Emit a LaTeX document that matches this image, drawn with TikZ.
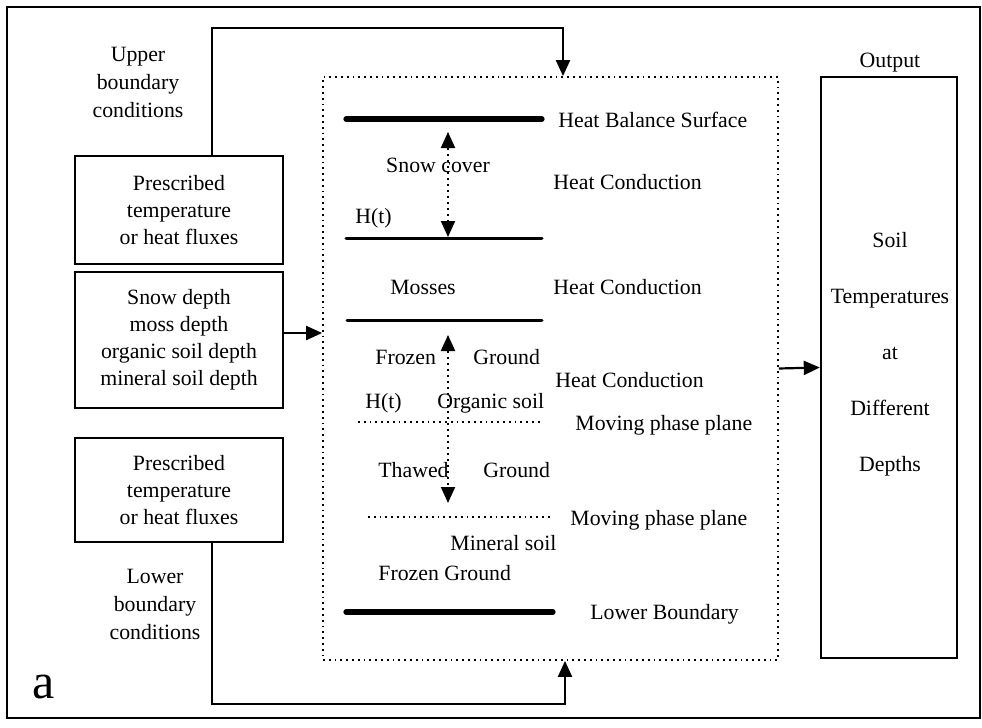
\documentclass[tikz,border=0pt]{standalone}
\usepackage{fontspec}
\setmainfont{Liberation Serif}
\usetikzlibrary{arrows.meta}
\newcommand{\diagfont}{\fontsize{10.9}{13.5}\selectfont}

\begin{document}
\begin{tikzpicture}[
    box/.style={draw=black, line width=1.2pt, minimum width=104pt, inner sep=0pt, align=center, font=\diagfont},
    note/.style={inner sep=0pt, font=\diagfont, align=center},
    side/.style={note, anchor=west},
    flow/.style={line width=1.1pt, -{Triangle[length=8pt, width=7pt]}},
    layer/.style={line width=1.5pt, line cap=round},
    surf/.style={line width=2.6pt, line cap=round},
    front/.style={dotted, line width=0.9pt},
    span/.style={dotted, line width=1pt, {Triangle[length=8pt, width=7pt]}-{Triangle[length=8pt, width=7pt]}},
    x=0.5pt, y=-0.5pt]

    \useasboundingbox (0, 0) rectangle (982, 728);
    \draw[line width=1pt] (7, 7) rectangle (980, 718);

    % ----- inputs on the left
    \node[note, font=\fontsize{10.9}{14}\selectfont] (upper) at (138, 82) {Upper\\boundary\\conditions};
    \node[box, minimum height=54pt] (topbc) at (179, 210) {Prescribed\\temperature\\or heat fluxes};
    \node[box, minimum height=68pt] (depth) at (179, 340) {Snow depth\\moss depth\\organic soil depth\\mineral soil depth};
    \node[box, minimum height=52pt] (botbc) at (179, 490) {Prescribed\\temperature\\or heat fluxes};
    \node[note, font=\fontsize{10.9}{14}\selectfont] (lower) at (155, 604) {Lower\\boundary\\conditions};
    \node[inner sep=0pt, anchor=base, font=\fontsize{25}{25}\selectfont] (tag) at (44, 698) {a};

    % ----- the soil column model
    \node[draw, dotted, line width=0.9pt, minimum width=227.5pt, minimum height=291.5pt] (model) at (550.5, 368.5) {};
    \node[draw, line width=1.2pt, minimum width=68pt, minimum height=290.5pt] (out) at (889, 367.5) {};
    \node[note] (outlbl) at (890, 63) {Output};
    \node[note, font=\fontsize{10.9}{28}\selectfont] (outtxt) at (890, 354) {Soil\\Temperatures\\at\\Different\\Depths};

    % ----- connectors
    \draw[flow] ([xshift=16.5pt]topbc.north) -- ++(0, -127) -| ([xshift=6.25pt]model.north);
    \draw[flow] ([xshift=16.5pt]botbc.south) -- ++(0, 161) -| ([xshift=7.25pt]model.south);
    \draw[flow] ([yshift=3.5pt]depth.east) -- ([yshift=3.5pt]depth.east -| model.west);
    \draw[flow] (model.east) -- (out.west);

    % ----- layers and boundaries inside the column
    \draw[surf]  (346, 119) -- (542, 119);
    \draw[layer] (346, 238) -- (542, 238);
    \draw[layer] (347, 320) -- (542, 320);
    \draw[front] (358, 422) -- (542, 422);
    \draw[front] (368, 517) -- (553, 517);
    \draw[surf]  (346, 612) -- (553, 612);

    \draw[span] (448, 132) -- (448, 237);
    \draw[span] (448, 335) -- (448, 503);

    \node[side] (hbs)   at (558, 120) {Heat Balance Surface};
    \node[note] (snow)  at (438, 165) {Snow cover};
    \node[side] (hc1)   at (553, 182) {Heat Conduction};
    \node[side] (ht1)   at (355, 218) {H(t)};
    \node[note] (moss)  at (423, 287) {Mosses};
    \node[side] (hc2)   at (553, 287) {Heat Conduction};
    \node[side] (fz1)   at (375, 357) {Frozen};
    \node[side] (gd1)   at (473, 357) {Ground};
    \node[side] (hc3)   at (555, 380) {Heat Conduction};
    \node[side] (ht2)   at (365, 403) {H(t)};
    \node[side] (org)   at (437, 403) {Organic soil};
    \node[side] (mpp1)  at (575, 425) {Moving phase plane};
    \node[side] (thaw)  at (378, 470) {Thawed};
    \node[side] (gd2)   at (483, 470) {Ground};
    \node[side] (mpp2)  at (570, 520) {Moving phase plane};
    \node[side] (mine)  at (450, 543) {Mineral soil};
    \node[side] (fz2)   at (378, 573) {Frozen Ground};
    \node[side] (lbd)   at (590, 614) {Lower Boundary};
\end{tikzpicture}
\end{document}
